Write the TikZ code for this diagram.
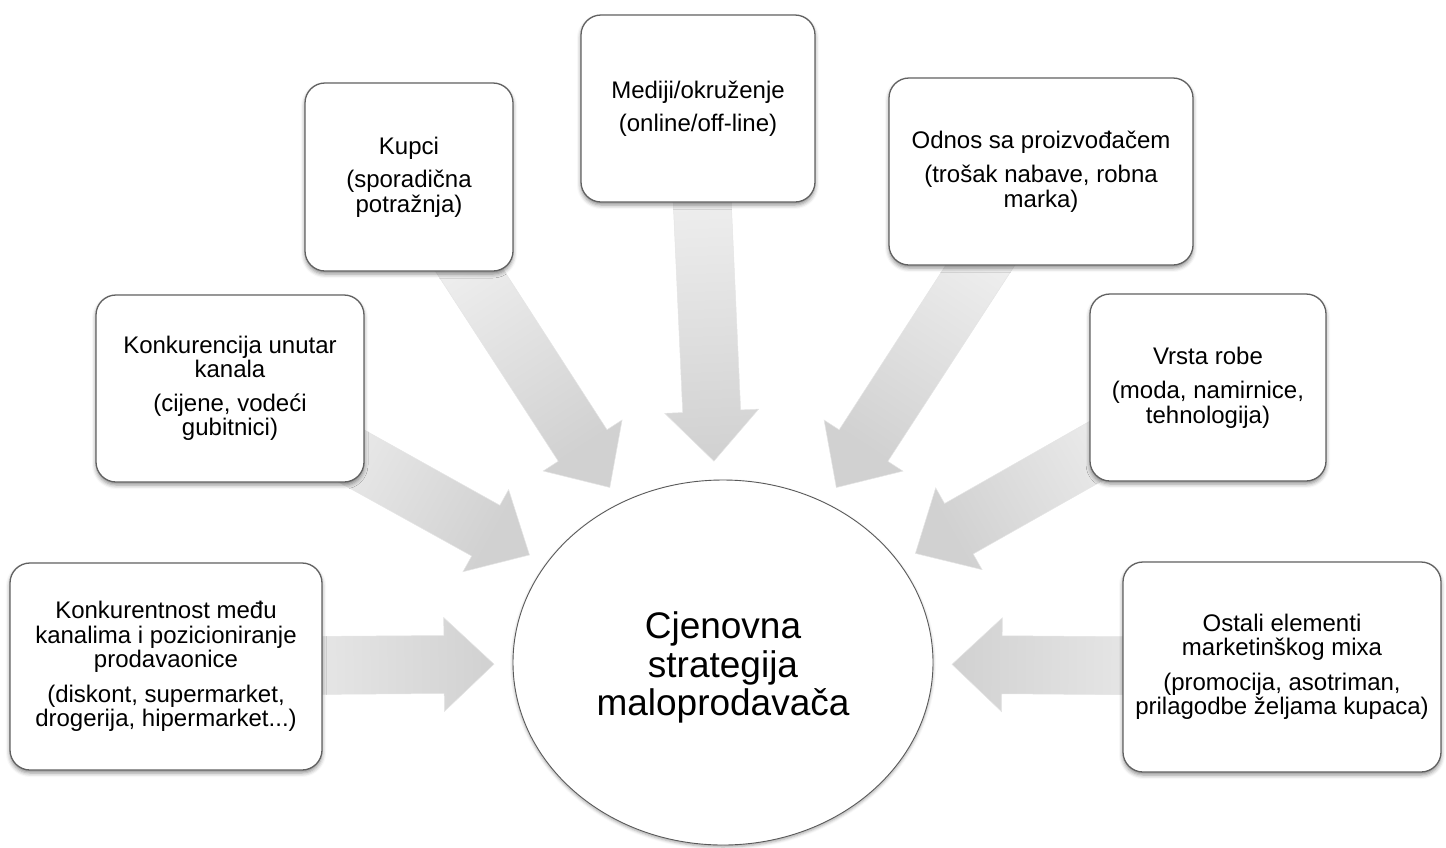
\documentclass[tikz,border=0pt]{standalone}
\usepackage{fontspec}
\setmainfont{Liberation Sans}
\usetikzlibrary{calc,shapes.geometric,shadows.blur,backgrounds}
\tikzset{
  box/.style={draw=black!62, line width=1.3pt, fill=white, rounded corners=20pt,
    align=center, inner sep=0pt, outer sep=0pt,
    font=\fontsize{24}{24.5}\selectfont,
    blur shadow={shadow xshift=0pt, shadow yshift=-3pt, shadow blur radius=4pt, shadow opacity=45}},
  hub/.style={ellipse, draw=black!65, line width=0.9pt, fill=white, inner sep=0pt, outer sep=0pt,
    minimum width=420pt, minimum height=365pt,
    blur shadow={shadow xshift=0pt, shadow yshift=-2pt, shadow blur radius=3pt, shadow opacity=35}},
  hubtext/.style={align=center, inner sep=0pt, font=\fontsize{37}{38.5}\selectfont},
  arrowshade/.style={top color=black!18, bottom color=black!3, draw=black!10, line width=0.5pt},
}
\newcommand\blockarrow[3]{%
  \pgfmathanglebetweenpoints{\pgfpointanchor{#1}{center}}{\pgfpointanchor{#2}{center}}%
  \let\arang\pgfmathresult
  \pgfmathsetmacro\arshade{\arang-90}%
  \pgfcoordinate{#1brd}{\pgfpointshapeborder{#2}{\pgfpointanchor{#1}{center}}}%
  \coordinate (#1tip) at ($(#1brd)!-#3!(#2.center)$);
  \pgfpointdiff{\pgfpointanchor{#1tip}{center}}{\pgfpointanchor{#1}{center}}%
  \pgfgetlastxy{\arvx}{\arvy}%
  \pgfmathsetmacro\arlen{veclen(\arvx,\arvy)}%
  \shade[arrowshade, shading angle=\arshade, shift={(#1tip)}, rotate=\arang]
    (0,0) -- (-50,47) -- (-50,29) -- (-\arlen,29) -- (-\arlen,-29) -- (-50,-29) -- (-50,-47) -- cycle;
}
\begin{document}
\begin{tikzpicture}[x=1pt,y=-1pt]
\useasboundingbox (0,0) rectangle (1446,847);

\node[box, minimum width=312pt, minimum height=207pt] (b1) at (166,666.5)
  {Konkurentnost među\\kanalima i pozicioniranje\\prodavaonice\\[10pt](diskont, supermarket,\\drogerija, hipermarket...)};
\node[box, minimum width=268pt, minimum height=187pt] (b2) at (230,388.5)
  {Konkurencija unutar\\kanala\\[9pt](cijene, vodeći\\gubitnici)};
\node[box, minimum width=208pt, minimum height=188pt] (b3) at (409,177)
  {Kupci\\[9pt](sporadična\\potražnja)};
\node[box, minimum width=234pt, minimum height=187pt] (b4) at (698,108.5)
  {Mediji/okruženje\\[9pt](online/off-line)};
\node[box, minimum width=304pt, minimum height=187pt] (b5) at (1041,171.5)
  {Odnos sa proizvođačem\\[10pt](trošak nabave, robna\\marka)};
\node[box, minimum width=236pt, minimum height=187pt] (b6) at (1208,387.5)
  {Vrsta robe\\[10pt](moda, namirnice,\\tehnologija)};
\node[box, minimum width=318pt, minimum height=210pt] (b7) at (1282,667)
  {Ostali elementi\\marketinškog mixa\\[10pt](promocija, asotriman,\\prilagodbe željama kupaca)};

\node[hub] (c) at (723,662.5) {};
\node[hubtext] (ct) at (723,667.5) {Cjenovna\\strategija\\maloprodavača};

\begin{scope}[on background layer]
  \blockarrow{b1}{c}{19pt}
  \blockarrow{b2}{c}{19pt}
  \blockarrow{b3}{c}{19pt}
  \blockarrow{b4}{c}{19pt}
  \blockarrow{b5}{c}{19pt}
  \blockarrow{b6}{c}{19pt}
  \blockarrow{b7}{c}{19pt}
\end{scope}
\end{tikzpicture}
\end{document}
